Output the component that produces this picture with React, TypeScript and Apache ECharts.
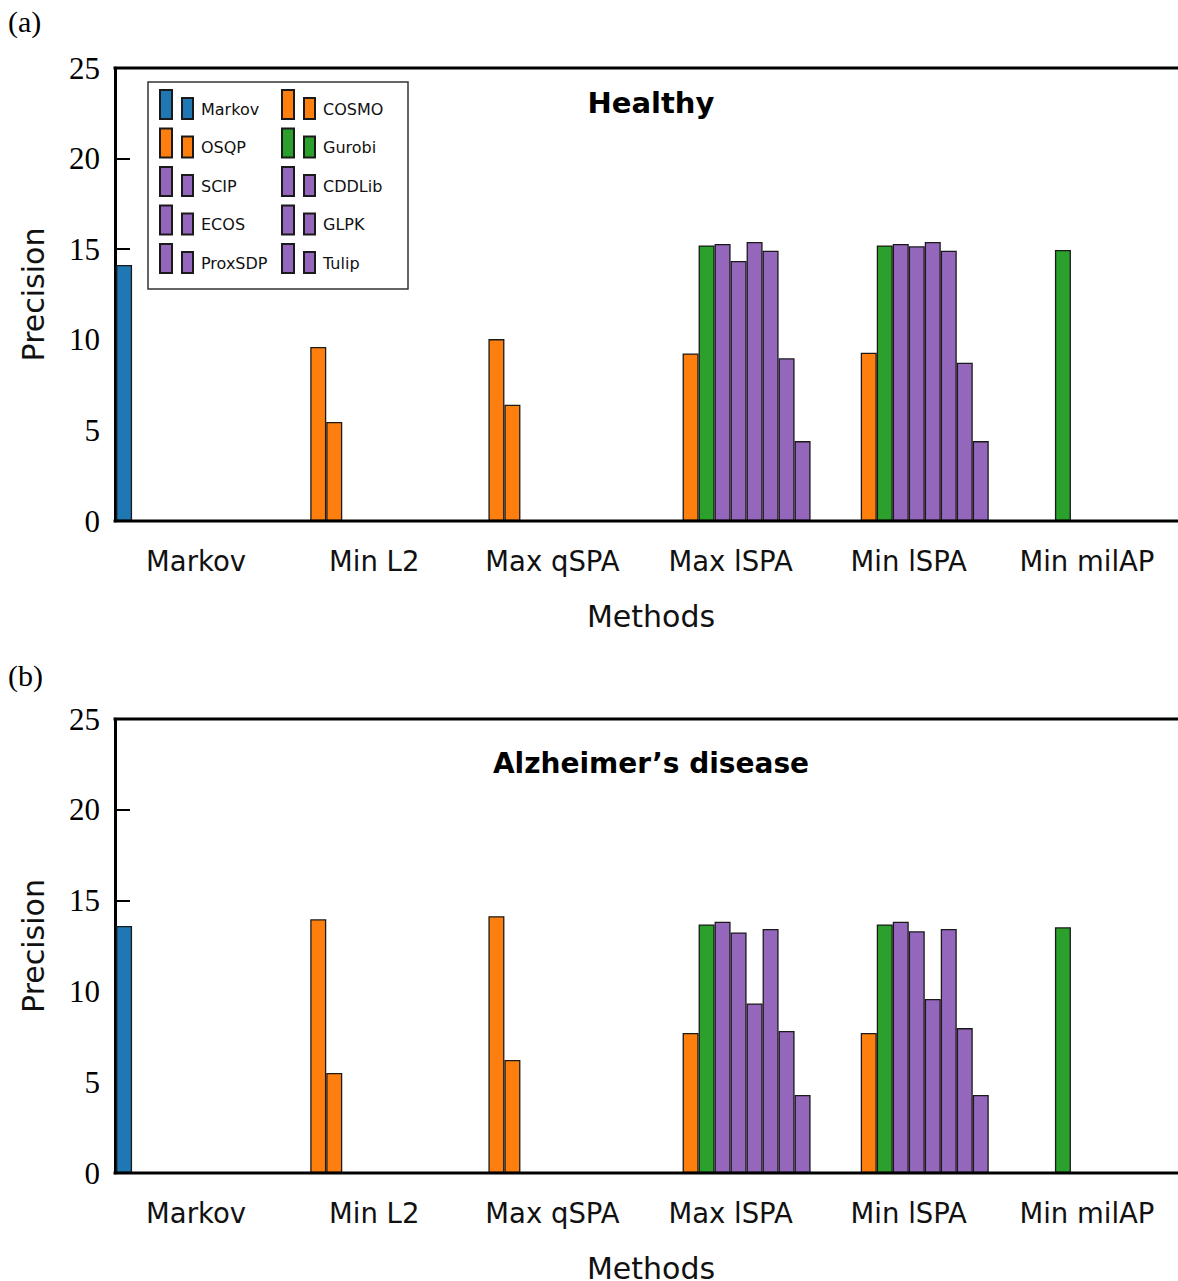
import React, { useEffect, useRef } from "react";
import * as echarts from "echarts";

// Methods along the x axis
const methods = ["Markov", "Min L2", "Max qSPA", "Max lSPA", "Min lSPA", "Min milAP"];

// Solvers, in plotting order (one bar slot per solver inside each method group)
const solvers = ["Markov", "COSMO", "OSQP", "Gurobi", "SCIP", "CDDLib", "ECOS", "GLPK", "ProxSDP", "Tulip"];
const solverColors = ["#1f77b4", "#ff7f0e", "#ff7f0e", "#2ca02c", "#9467bd", "#9467bd", "#9467bd", "#9467bd", "#9467bd", "#9467bd"];

// Precision per method, one value per solver (null = solver not used for that method)
// (a) Healthy
const healthyMarkov = [14.13, null, null, null, null, null, null, null, null, null];
const healthyMinL2 = [null, 9.6, 5.46, null, null, null, null, null, null, null];
const healthyMaxQSPA = [null, 10.04, 6.42, null, null, null, null, null, null, null];
const healthyMaxLSPA = [null, null, 9.25, 15.21, 15.29, 14.35, 15.4, 14.92, 8.98, 4.41];
const healthyMinLSPA = [null, null, 9.29, 15.21, 15.29, 15.16, 15.4, 14.92, 8.74, 4.41];
const healthyMinMilAP = [null, null, null, 14.96, null, null, null, null, null, null];

// (b) Alzheimer's disease
const adMarkov = [13.6, null, null, null, null, null, null, null, null, null];
const adMinL2 = [null, 13.97, 5.51, null, null, null, null, null, null, null];
const adMaxQSPA = [null, 14.14, 6.22, null, null, null, null, null, null, null];
const adMaxLSPA = [null, null, 7.71, 13.69, 13.84, 13.25, 9.34, 13.44, 7.82, 4.3];
const adMinLSPA = [null, null, 7.71, 13.69, 13.84, 13.31, 9.58, 13.44, 7.98, 4.3];
const adMinMilAP = [null, null, null, 13.53, null, null, null, null, null, null];

const yTicks = { min: 0, max: 25, interval: 5 };

const panels = [
  {
    tag: "(a)",
    title: "Healthy",
    titleSize: 29,
    groups: [healthyMarkov, healthyMinL2, healthyMaxQSPA, healthyMaxLSPA, healthyMinLSPA, healthyMinMilAP],
    top: 68,
    height: 453,
    tagY: 22,
    titleY: 103,
  },
  {
    tag: "(b)",
    title: "Alzheimer\u2019s disease",
    titleSize: 28,
    groups: [adMarkov, adMinL2, adMaxQSPA, adMaxLSPA, adMinLSPA, adMinMilAP],
    top: 719,
    height: 454,
    tagY: 676,
    titleY: 763,
  },
];

const SANS = "DejaVu Sans";
const SERIF = "Liberation Serif";
const FRAME_LEFT = 115;
const FRAME_RIGHT = 1178;
const GRID_LEFT = 107;
const GRID_WIDTH = 1069;
// two-bar legend glyph; the trailing move-to pads the glyph box below the bars
// so the label sits a little lower than the bars' middle
const LEGEND_ICON = "path://M0,0H12V29H0Z M22,8H33V29H22Z M0,38";

function buildOption() {
  const grid: any[] = [];
  const xAxis: any[] = [];
  const yAxis: any[] = [];
  const series: any[] = [];
  const graphic: any[] = [];

  panels.forEach((p, pi) => {
    grid.push({ left: GRID_LEFT, width: GRID_WIDTH, top: p.top, height: p.height, containLabel: false });
    xAxis.push({
      type: "category",
      gridIndex: pi,
      data: methods,
      boundaryGap: true,
      axisLine: { show: false },
      axisTick: { show: false },
      splitLine: { show: false },
      axisLabel: {
        interval: 0,
        hideOverlap: false,
        fontFamily: SANS,
        fontSize: 27.5,
        color: "#111",
        margin: 26,
      },
    });
    yAxis.push({
      type: "value",
      gridIndex: pi,
      min: yTicks.min,
      max: yTicks.max,
      interval: yTicks.interval,
      offset: GRID_LEFT - FRAME_LEFT,
      axisLine: { show: true, lineStyle: { color: "#000", width: 3 } },
      axisTick: { show: true, inside: true, length: 15, lineStyle: { color: "#000", width: 2 } },
      splitLine: { show: false },
      axisLabel: { fontFamily: SERIF, fontSize: 31, color: "#000", margin: 15 },
    });

    solvers.forEach((name, si) => {
      series.push({
        type: "bar",
        name,
        xAxisIndex: pi,
        yAxisIndex: pi,
        barWidth: 16,
        barGap: "0%",
        data: p.groups.map((g) => (g[si] == null ? "-" : g[si])),
        itemStyle: { color: solverColors[si], borderColor: "#1a1a1a", borderWidth: 1.3 },
        emphasis: { disabled: true },
      });
    });

    const bottom = p.top + p.height;
    // frame: top edge and baseline
    graphic.push({
      type: "line",
      shape: { x1: FRAME_LEFT - 1.5, y1: p.top, x2: FRAME_RIGHT, y2: p.top },
      style: { stroke: "#000", lineWidth: 3 },
      z: 10,
    });
    graphic.push({
      type: "line",
      shape: { x1: FRAME_LEFT - 1.5, y1: bottom, x2: FRAME_RIGHT, y2: bottom },
      style: { stroke: "#000", lineWidth: 3 },
      z: 10,
    });
    // panel tag
    graphic.push({
      type: "text",
      left: 8,
      top: p.tagY - 16,
      style: { text: p.tag, font: `30px "${SERIF}"`, fill: "#000" },
    });
    // panel title
    graphic.push({
      type: "text",
      x: 651,
      y: p.titleY,
      style: {
        text: p.title,
        font: `bold ${p.titleSize}px "${SANS}"`,
        fill: "#000",
        align: "center",
        verticalAlign: "middle",
      },
    });
    // axis names
    graphic.push({
      type: "text",
      x: 651,
      y: bottom + 95,
      style: { text: "Methods", font: `30px "${SANS}"`, fill: "#111", align: "center", verticalAlign: "middle" },
    });
    graphic.push({
      type: "text",
      x: 33,
      y: p.top + p.height / 2,
      rotation: Math.PI / 2,
      style: { text: "Precision", font: `30px "${SANS}"`, fill: "#111", align: "center", verticalAlign: "middle" },
    });
  });

  // legend frame
  graphic.push({
    type: "rect",
    shape: { x: 148, y: 82, width: 260, height: 207 },
    style: { fill: "#fff", stroke: "#333", lineWidth: 1.5 },
    z: 1,
  });

  const legendCommon = {
    orient: "vertical",
    top: 89,
    padding: 0,
    itemWidth: 33,
    itemHeight: 38,
    itemGap: -1.5,
    icon: LEGEND_ICON,
    selectedMode: false,
    textStyle: { fontFamily: SANS, fontSize: 16, color: "#111", padding: [0, 0, 0, 3] },
    z: 5,
  };

  return {
    animation: false,
    backgroundColor: "#fff",
    grid,
    xAxis,
    yAxis,
    series,
    graphic,
    legend: [
      { ...legendCommon, left: 159, data: solvers.filter((_, i) => i % 2 === 0) },
      { ...legendCommon, left: 281, data: solvers.filter((_, i) => i % 2 === 1) },
    ],
  };
}

export default function App() {
  const ref = useRef<HTMLDivElement>(null);

  useEffect(() => {
    if (!ref.current) return;
    const chart = echarts.init(ref.current, null, { renderer: "svg" });
    chart.setOption(buildOption() as any);
    return () => chart.dispose();
  }, []);

  return (
    <div
      ref={ref}
      style={{ position: "absolute", left: 0, top: 0, width: 1178, height: 1281, background: "#fff" }}
    />
  );
}
